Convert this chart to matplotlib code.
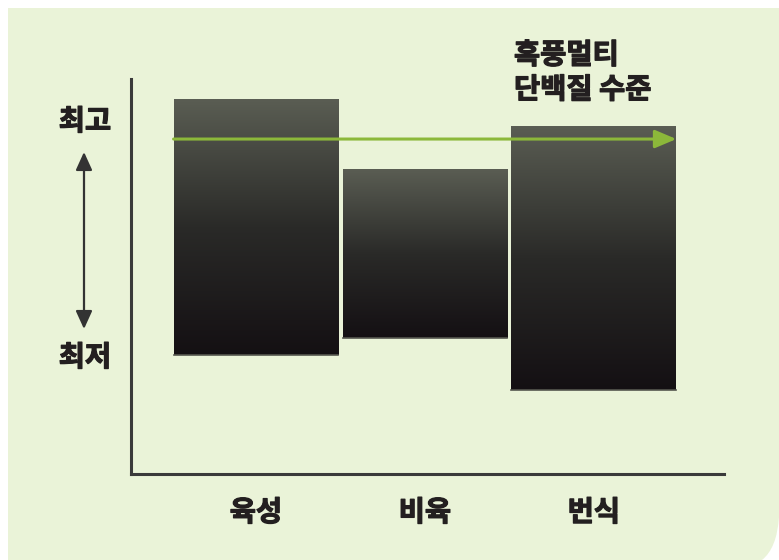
import matplotlib
matplotlib.use("Agg")
import matplotlib.pyplot as plt
import matplotlib.patheffects as pe
import numpy as np
from matplotlib.colors import LinearSegmentedColormap
from matplotlib.path import Path
from matplotlib.patches import PathPatch

plt.rcParams["font.family"] = ["Noto Sans CJK KR", "DejaVu Sans"]

categories = ["육성", "비육", "번식"]
low = [30.1, 34.4, 21.3]
high = [94.9, 77.0, 88.1]
protein_level = 84.8
top_label = "최고"
bottom_label = "최저"
note = "흑풍멀티\n단백질 수준"

bg_color = "#eaf3d8"
text_color = "#231f20"
axis_color = "#3a3a3a"
green = "#8cb83a"
bar_cmap = LinearSegmentedColormap.from_list("bar", ["#141013", "#2a2a28", "#5a5d53"])

W, H = 779, 560
fig = plt.figure(figsize=(W / 100, H / 100), dpi=100)
fig.patch.set_facecolor("white")

# background panel in pixel coords (y down)
bg = fig.add_axes([0, 0, 1, 1])
bg.set_xlim(0, W)
bg.set_ylim(H, 0)
bg.axis("off")
verts = [(8, 8), (W, 8), (W, 517), (777, 548), (762, H), (8, H), (8, 8)]
codes = [Path.MOVETO, Path.LINETO, Path.LINETO, Path.CURVE3, Path.CURVE3,
         Path.LINETO, Path.CLOSEPOLY]
bg.add_patch(PathPatch(Path(verts, codes), facecolor=bg_color, edgecolor="none"))

# heavy text: bold font plus a thin stroke
heavy = [pe.withStroke(linewidth=0.9, foreground=text_color)]
font = dict(fontsize=20.5, fontweight="bold", color=text_color, path_effects=heavy)

# min / max labels with double arrow
bg.text(85, 122, top_label, ha="center", va="center", **font)
bg.text(85, 358, bottom_label, ha="center", va="center", **font)
bg.annotate("", xy=(84, 152), xytext=(84, 329),
            arrowprops=dict(arrowstyle="<|-|>,head_length=1.1,head_width=0.5",
                            color="#333333", lw=1.6, shrinkA=0, shrinkB=0))
bg.text(514, 73, note, ha="left", va="center", linespacing=1.3, **font)

# main chart
ax = fig.add_axes([131 / W, (H - 474) / H, (724 - 131) / W, (474 - 79) / H])
ax.patch.set_alpha(0)
width = 0.976
x = np.arange(len(categories))
grad = np.linspace(0, 1, 256).reshape(-1, 1)
for xi, lo, hi in zip(x, low, high):
    ax.imshow(grad, extent=[xi - width / 2, xi + width / 2, lo, hi],
              cmap=bar_cmap, aspect="auto", origin="lower", zorder=2)
    ax.plot([xi - width / 2, xi + width / 2], [lo, lo], color="#55564f",
            lw=1.2, zorder=3)

ax.annotate("", xy=(x[-1] + width / 2, protein_level),
            xytext=(x[0] - width / 2, protein_level),
            arrowprops=dict(arrowstyle="-|>,head_length=1.3,head_width=0.55",
                            color=green, lw=2.2, shrinkA=0, shrinkB=0),
            zorder=4)

ax.set_xlim(-0.74, 2.77)
ax.set_ylim(0, 100)
for s in ["top", "right"]:
    ax.spines[s].set_visible(False)
for s in ["left", "bottom"]:
    ax.spines[s].set_color(axis_color)
    ax.spines[s].set_linewidth(2.2)
ax.set_yticks([])
ax.set_xticks(x)
ax.set_xticklabels(categories, **font)
ax.tick_params(axis="x", length=0, pad=18)

fig.savefig("out.png", dpi=100)
